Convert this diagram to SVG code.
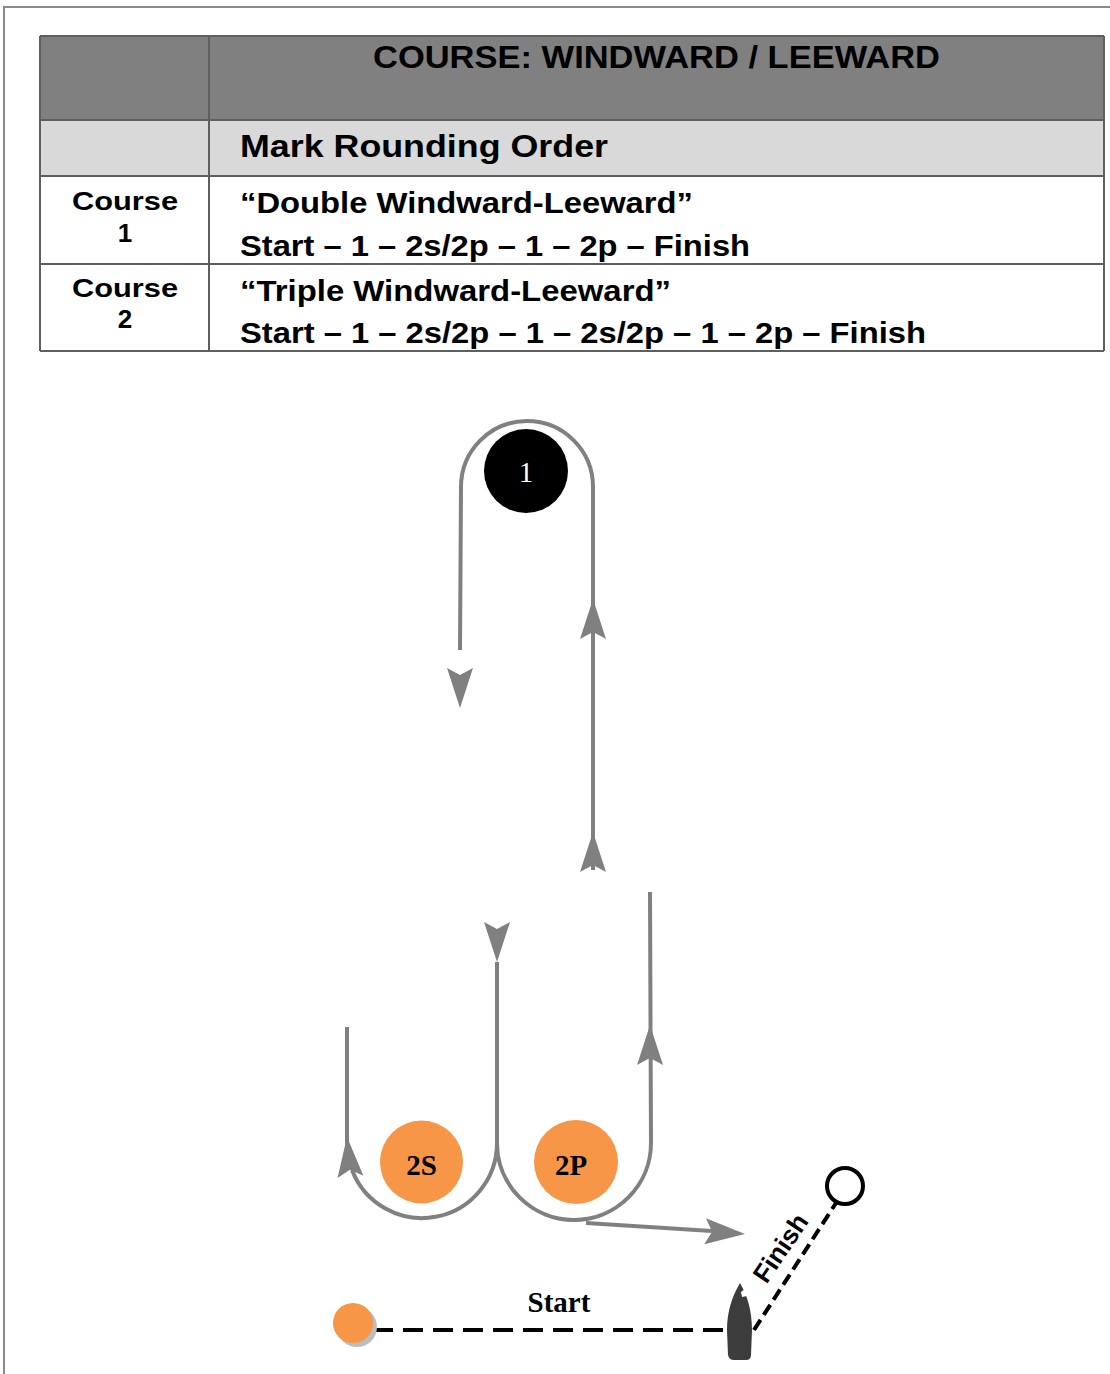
<svg xmlns="http://www.w3.org/2000/svg" width="1110" height="1374" viewBox="0 0 1110 1374">
<style>
.frame{fill:none;stroke:#8a8a8a;stroke-width:2}
.grid{fill:none;stroke:#5f5f5f;stroke-width:2}
.tb{font-family:"Liberation Sans",Arial,sans-serif;font-weight:bold;fill:#000}
.path{fill:none;stroke:#808080;stroke-width:4}
.ah{fill:#808080}
.ser{font-family:"Liberation Serif","Times New Roman",serif;font-weight:bold;text-anchor:middle}
.dash{fill:none;stroke:#000;stroke-width:4}
</style>
<defs>
<path id="ah" d="M0,0 L13,40 L0,33 L-13,40 Z"/>
</defs>
<rect width="1110" height="1374" fill="#fff"/>
<path class="frame" d="M4,1374 L4,7 L1110,7"/>

<g id="table">
<rect x="40" y="36" width="1064" height="84" fill="#808080"/>
<rect x="40" y="120" width="1064" height="56" fill="#d9d9d9"/>
<path class="grid" d="M40,36 H1104 M40,120 H1104 M40,176 H1104 M40,264 H1104 M40,351 H1104 M40,36 V351 M209,36 V351 M1104,36 V351"/>
<text class="tb" x="373" y="68" font-size="31" textLength="567" lengthAdjust="spacingAndGlyphs">COURSE: WINDWARD / LEEWARD</text>
<text class="tb" x="240" y="157" font-size="31" textLength="368" lengthAdjust="spacingAndGlyphs">Mark Rounding Order</text>
<text class="tb" x="72" y="210" font-size="26" textLength="106" lengthAdjust="spacingAndGlyphs">Course</text>
<text class="tb" x="125" y="242" font-size="26" text-anchor="middle">1</text>
<text class="tb" x="72" y="297" font-size="26" textLength="106" lengthAdjust="spacingAndGlyphs">Course</text>
<text class="tb" x="125" y="328" font-size="26" text-anchor="middle">2</text>
<text class="tb" x="240" y="213" font-size="30" textLength="453" lengthAdjust="spacingAndGlyphs">“Double Windward-Leeward”</text>
<text class="tb" x="240" y="256" font-size="30" textLength="510" lengthAdjust="spacingAndGlyphs">Start – 1 – 2s/2p – 1 – 2p – Finish</text>
<text class="tb" x="240" y="301" font-size="30" textLength="431" lengthAdjust="spacingAndGlyphs">“Triple Windward-Leeward”</text>
<text class="tb" x="240" y="343" font-size="30" textLength="686" lengthAdjust="spacingAndGlyphs">Start – 1 – 2s/2p – 1 – 2s/2p – 1 – 2p – Finish</text>
</g>

<g id="connectors">
<path class="path" d="M460,650 L461,487 A66,66 0 0 1 593,487 L593,870"/>
<use href="#ah" class="ah" transform="translate(460,708) rotate(180)"/>
<use href="#ah" class="ah" transform="translate(593,599)"/>
<use href="#ah" class="ah" transform="translate(593,832)"/>
<path class="path" d="M497,962 L497,1143 A75,75 0 0 1 352,1170"/>
<path class="path" d="M347,1027 L347,1150"/>
<use href="#ah" class="ah" transform="translate(497,962) rotate(180)"/>
<use href="#ah" class="ah" transform="translate(347,1137) rotate(-5)"/>
<path class="path" d="M497,1143 A77,77 0 0 0 651,1143 L650,892"/>
<use href="#ah" class="ah" transform="translate(650,1025)"/>
<path class="path" d="M586,1223 L712,1231"/>
<use href="#ah" class="ah" transform="translate(745,1234) rotate(94)"/>
<path class="dash" d="M373,1330 L728,1330" stroke-dasharray="20 10"/>
<path class="dash" d="M754,1330 L836,1203" stroke-dasharray="12 6"/>
</g>

<g id="mark1">
<circle cx="526" cy="471" r="42" fill="#000"/>
<text x="526" y="482" font-family="'Liberation Serif','Times New Roman',serif" font-size="29" fill="#fff" text-anchor="middle">1</text>
</g>
<g id="mark2s">
<circle cx="421.5" cy="1162" r="41.5" fill="#f79646"/>
<text class="ser" x="421.5" y="1175" font-size="29">2S</text>
</g>
<g id="mark2p">
<circle cx="576" cy="1162" r="42" fill="#f79646"/>
<text class="ser" x="571" y="1175" font-size="29">2P</text>
</g>
<g id="finish-mark">
<circle cx="845" cy="1186" r="18" fill="#fff" stroke="#000" stroke-width="4"/>
</g>
<g id="finish-label">
<text x="788" y="1253" font-family="'Liberation Sans',Arial,sans-serif" font-weight="bold" font-size="26" text-anchor="middle" transform="rotate(-56 788 1253)">Finish</text>
</g>
<g id="start-pin">
<circle cx="357" cy="1327" r="20" fill="#bdbdbd"/>
<circle cx="353" cy="1323" r="20" fill="#f79646"/>
</g>
<g id="start-label">
<text class="ser" x="559" y="1312" font-size="29">Start</text>
</g>
<g id="boat">
<path d="M740,1283 C733,1295 727,1310 727,1330 L728,1355 Q729,1360 734,1360 L746,1360 Q751,1360 751,1355 L752,1330 C752,1310 747,1295 740,1283 Z" fill="#3c3c3c"/>
<path d="M741,1292 L745,1289 L747,1296 L742,1297 Z" fill="#fff"/>
</g>
</svg>
